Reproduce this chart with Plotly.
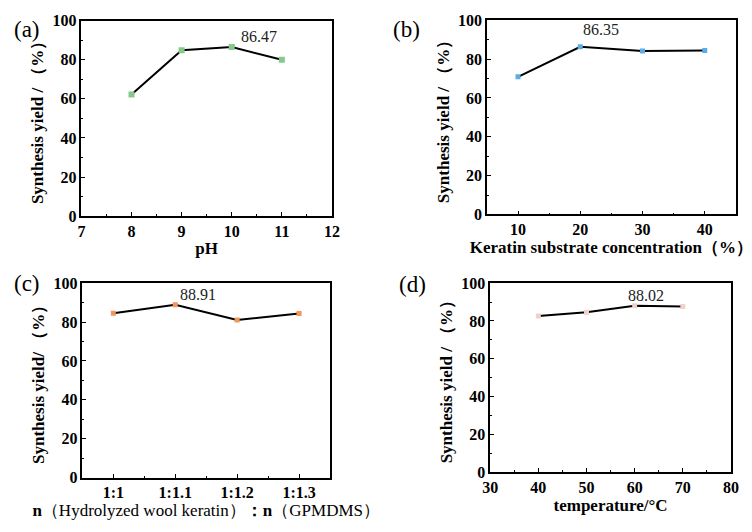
import plotly.graph_objects as go

# ---- data ----
ph_x = [8, 9, 10, 11]
ph_y = [62.2, 84.8, 86.47, 80.0]

conc_x = [10, 20, 30, 40]
conc_y = [70.9, 86.35, 84.2, 84.5]

ratio_cats = ["1:1", "1:1.1", "1:1.2", "1:1.3"]
ratio_y = [84.6, 88.91, 81.1, 84.4]

temp_x = [40, 50, 60, 70]
temp_y = [82.6, 84.6, 88.02, 87.7]

y_ticks = [0, 20, 40, 60, 80, 100]

W, H = 752, 532
SERIF = "Liberation Serif"

fig = go.Figure()

def px_dom(x0, x1, y0, y1):
    return [x0 / W, x1 / W], [1 - y1 / H, 1 - y0 / H]

doms = [
    px_dom(75, 331, 13, 215),
    px_dom(489.3, 743.7, 12.7, 213.3),
    px_dom(76, 329, 284.3, 485),
    px_dom(492.7, 738.7, 284.3, 479.3),
]

ratio_x = list(range(len(ratio_cats)))
series = [
    (ph_x, ph_y, "#86c98a", 6),
    (conc_x, conc_y, "#5aaee6", 5),
    (ratio_x, ratio_y, "#f4955a", 5),
    (temp_x, temp_y, "#efd2cc", 5),
]

for i, (xs, ys, col, ms) in enumerate(series):
    sfx = "" if i == 0 else str(i + 1)
    fig.add_trace(go.Scatter(
        x=xs, y=ys, mode="lines+markers",
        line=dict(color="black", width=2),
        marker=dict(symbol="square", size=ms, color=col),
        xaxis="x" + sfx, yaxis="y" + sfx, showlegend=False,
    ))

tickfont = dict(family=SERIF, size=16, color="black")
titlefont = dict(family=SERIF, size=17, color="black")

def b(v):
    return f"<b>{v}</b>"

x_specs = [
    dict(range=[7, 12], tickvals=[7, 8, 9, 10, 11, 12], minor_dtick=0.5, title="<b>pH</b>"),
    dict(range=[5, 45], tickvals=[10, 20, 30, 40], minor_dtick=5,
         title="<b>Keratin substrate concentration（%）</b>"),
    dict(range=[-0.5, 3.5], tickvals=ratio_x, ticktext=ratio_cats, minor_dtick=0.5,
         title="<b>n</b>（Hydrolyzed wool keratin）<b>：n</b>（GPMDMS）"),
    dict(range=[30, 80], tickvals=[30, 40, 50, 60, 70, 80], minor_dtick=5,
         title="<b>temperature/°C</b>"),
]
y_titles = [
    "<b>Synthesis yield / （%）</b>",
    "<b>Synthesis yield / （%）</b>",
    "<b>Synthesis yield/ （%）</b>",
    "<b>Synthesis yield / （%）</b>",
]

layout = dict(
    width=W, height=H, margin=dict(l=0, r=0, t=0, b=0),
    paper_bgcolor="white", plot_bgcolor="white",
    annotations=[],
)

for i in range(4):
    sfx = "" if i == 0 else str(i + 1)
    xd, yd = doms[i]
    xs = x_specs[i]
    ttext = xs.get("ticktext", xs["tickvals"])
    xa = dict(
        domain=xd, anchor="y" + sfx, range=xs["range"],
        tickmode="array", tickvals=xs["tickvals"], ticktext=[b(t) for t in ttext],
        showline=True, mirror=True, linecolor="black", linewidth=1.5,
        ticks="inside", ticklen=4, tickwidth=1.2, tickcolor="black",
        minor=dict(ticks="inside", ticklen=2, dtick=xs["minor_dtick"], tickcolor="black",
                   tick0=xs["range"][0]),
        showgrid=False, zeroline=False,
        tickfont=tickfont,
        title=dict(text=xs["title"], font=titlefont, standoff=3),
    )
    ya = dict(
        domain=yd, anchor="x" + sfx, range=[0, 100],
        tickmode="array", tickvals=y_ticks, ticktext=[b(t) for t in y_ticks],
        showline=True, mirror=True, linecolor="black", linewidth=1.5,
        ticks="inside", ticklen=4, tickwidth=1.2, tickcolor="black",
        minor=dict(ticks="inside", ticklen=2, dtick=10, tickcolor="black"),
        showgrid=False, zeroline=False,
        tickfont=tickfont,
        title=dict(text=y_titles[i], font=dict(family=SERIF, size=17, color="black"), standoff=4),
    )
    layout["xaxis" + sfx] = xa
    layout["yaxis" + sfx] = ya

fig.update_layout(**layout)

# value labels
labels = [
    (ph_x, ph_y, 2, 27, 11, ""),
    (conc_x, conc_y, 1, 21, 17, "2"),
    (ratio_x, ratio_y, 1, 23, 10, "3"),
    (temp_x, temp_y, 2, 11, 10, "4"),
]
for xs, ys, idx, dx, dy, sfx in labels:
    fig.add_annotation(
        x=xs[idx], y=ys[idx], xref="x" + sfx, yref="y" + sfx,
        text=f"{ys[idx]:.2f}", showarrow=False, xshift=dx, yshift=dy,
        font=dict(family=SERIF, size=16, color="#222222"),
    )

# panel labels
for txt, px, py in [("(a)", 19, 22), ("(b)", 407, 22), ("(c)", 19, 285), ("(d)", 413, 286)]:
    fig.add_annotation(
        x=px / W, y=1 - py / H, xref="paper", yref="paper",
        text=txt, showarrow=False, xanchor="center", yanchor="middle",
        font=dict(family=SERIF, size=23, color="black"),
    )

fig.write_html("out.html")
